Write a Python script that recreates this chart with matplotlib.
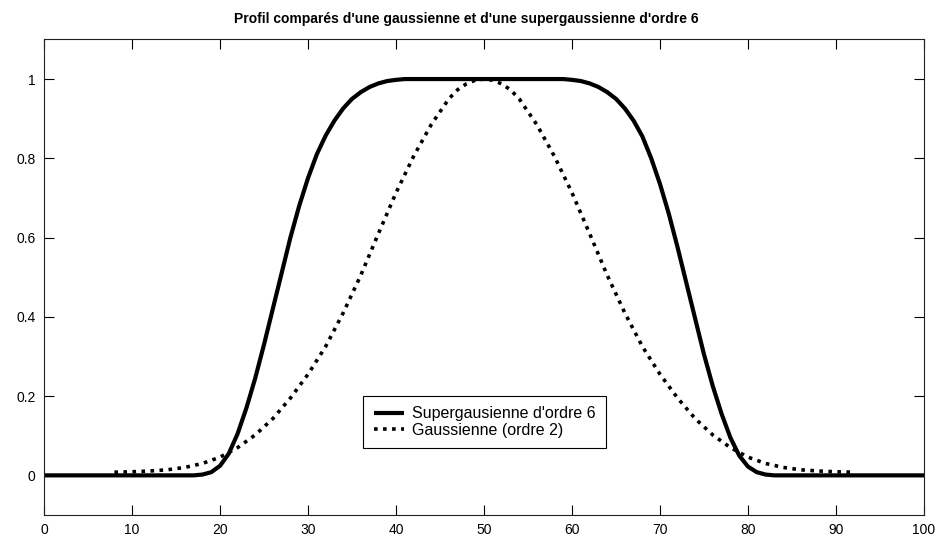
import matplotlib
matplotlib.use("Agg")
import matplotlib.pyplot as plt

# ---------------- Data ----------------
x_super = [0, 10, 17, 18, 19, 20, 21, 22, 23, 24, 25, 26, 27, 28, 29, 30,
           31, 32, 33, 34, 35, 36, 37, 38, 39, 40, 41, 50, 59, 60, 61, 62,
           63, 64, 65, 66, 67, 68, 69, 70, 71, 72, 73, 74, 75, 76, 77, 78,
           79, 80, 81, 82, 83, 90, 100]
y_super = [0, 0, 0, 0.002, 0.008, 0.024, 0.055, 0.105, 0.17, 0.245, 0.33,
           0.42, 0.51, 0.60, 0.68, 0.75, 0.81, 0.857, 0.895, 0.926, 0.95,
           0.967, 0.98, 0.989, 0.995, 0.998, 1.0, 1.0, 1.0, 0.998, 0.995,
           0.989, 0.98, 0.967, 0.95, 0.926, 0.895, 0.855, 0.80, 0.735, 0.66,
           0.575, 0.485, 0.395, 0.305, 0.225, 0.155, 0.095, 0.05, 0.022,
           0.008, 0.002, 0, 0, 0]

x_gauss = [8, 10, 12, 14, 16, 18, 20, 22, 24, 26, 28, 30, 32, 34, 36, 38,
           40, 42, 44, 46, 47, 48, 49, 50, 51, 52, 53, 54, 56, 58, 60, 62,
           64, 66, 68, 70, 72, 74, 76, 78, 80, 82, 84, 86, 88, 90, 92]
y_gauss = [0.008, 0.009, 0.011, 0.014, 0.020, 0.030, 0.046, 0.070, 0.102,
           0.143, 0.195, 0.255, 0.325, 0.41, 0.505, 0.61, 0.713, 0.805,
           0.885, 0.95, 0.973, 0.988, 0.997, 1.0, 0.997, 0.988, 0.973, 0.95,
           0.885, 0.805, 0.713, 0.61, 0.505, 0.41, 0.325, 0.255, 0.195,
           0.143, 0.102, 0.070, 0.046, 0.030, 0.020, 0.014, 0.011, 0.009,
           0.008]

x_ticks = [0, 10, 20, 30, 40, 50, 60, 70, 80, 90, 100]
y_ticks = [0, 0.2, 0.4, 0.6, 0.8, 1]
y_ticklabels = ["0", "0.2", "0.4", "0.6", "0.8", "1"]

label_super = "Supergausienne d'ordre 6"
label_gauss = "Gaussienne (ordre 2)"
title = "Profil comparés d'une gaussienne et d'une supergaussienne d'ordre 6"

# ---------------- Plot ----------------
plt.rcParams["font.family"] = ["Liberation Sans", "DejaVu Sans"]

fig = plt.figure(figsize=(9.4, 5.4), dpi=100)
ax = fig.add_axes([0.0468, 0.0463, 0.9362, 0.8807])

ax.plot(x_super, y_super, color="black", linewidth=3.0,
        solid_capstyle="butt", solid_joinstyle="round", label=label_super)
ax.plot(x_gauss, y_gauss, color="black", linewidth=2.6,
        linestyle=(0, (1, 1.5)), dash_capstyle="butt", label=label_gauss)

ax.set_xlim(0, 100)
ax.set_ylim(-0.1, 1.1)
ax.set_xticks(x_ticks)
ax.set_yticks(y_ticks)
ax.set_yticklabels(y_ticklabels)
ax.tick_params(direction="in", length=7, width=0.8, top=True, right=True,
               labelsize=10, pad=6)
for s in ax.spines.values():
    s.set_linewidth(0.8)
    s.set_color("#222222")

ax.set_title(title, fontsize=10, fontweight="bold", x=0.48, pad=12)

leg = ax.legend(loc="upper left", bbox_to_anchor=(0.3628, 0.2508),
                borderaxespad=0, fancybox=False, framealpha=1,
                edgecolor="black", fontsize=11.5, handlelength=1.9,
                handletextpad=0.5, borderpad=0.65, labelspacing=0.1)
leg.get_frame().set_linewidth(0.8)

fig.savefig("out.png", dpi=100)
